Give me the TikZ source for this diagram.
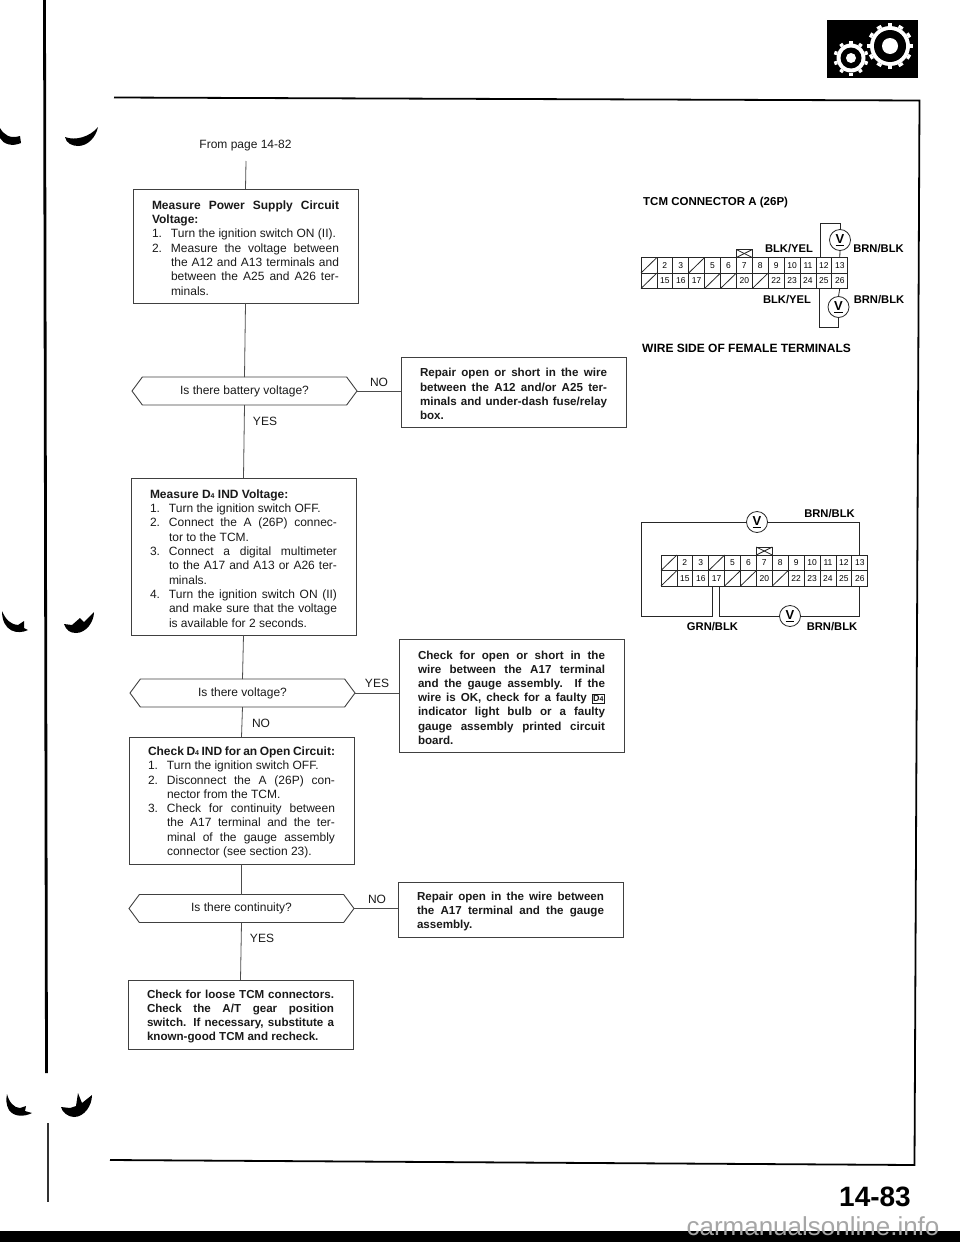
\documentclass[tikz,border=0pt]{standalone}
\usepackage{fontspec}
\setmainfont{Liberation Sans}
\usetikzlibrary{shapes.symbols}
\tolerance=9999
\hbadness=10000

\newcommand{\stepline}[2]{\par\noindent\hangindent=19pt\hangafter=1\makebox[19pt][l]{#1}#2\par}
\newcommand{\dfour}{D{\fontsize{7}{7}\selectfont 4}}
\newcommand{\dfourbox}{{\setlength{\fboxsep}{0.8pt}\setlength{\fboxrule}{0.6pt}\fbox{\fontsize{9}{9}\selectfont\dfour}}}
\newcommand{\tcmgrid}[3]{%
    \foreach \n in {2,3,5,6,7,8,9,10,11,12,13,15,16,17,20,22,23,24,25,26}{
        \pgfmathtruncatemacro{\cellcol}{mod(\n-1,13)}
        \pgfmathtruncatemacro{\cellrow}{(\n-1)/13}
        \node[pincell] (#3\n) at (#1+\cellcol*15.9+7.95, #2+\cellrow*15.5+7.75) {\n};
    }
    \foreach \n in {1,4,14,18,19,21}{
        \pgfmathtruncatemacro{\cellcol}{mod(\n-1,13)}
        \pgfmathtruncatemacro{\cellrow}{(\n-1)/13}
        \node[pincell] (#3\n) at (#1+\cellcol*15.9+7.95, #2+\cellrow*15.5+7.75) {};
        \draw[wire] (#3\n.south west) -- (#3\n.north east);
    }
    \node[keybox, anchor=south] (#3key) at (#37.north) {};
}
\newcommand{\gearwheel}[7]{%
    \foreach \a in {1,...,#6}{
        \fill[white, rotate around={\a*360/#6:(#1,#2)}] (#1-#7,#2-#4) rectangle (#1+#7,#2-#3);
    }
    \fill[white] (#1,#2) circle[radius=#4];
    \fill[black] (#1,#2) circle[radius=#4-4];
    \fill[white] (#1,#2) circle[radius=#5];
}
\tikzset{
    wire/.style={line width=0.8pt, black!85},
    link/.style={line width=0.8pt, black!70},
    plainbox/.style={draw=black!75, line width=0.9pt, anchor=north west, text width=187pt, inner xsep=19pt,
        inner ysep=0pt, align=justify, outer sep=0pt, text=black!90, font=\fontsize{12}{14.3}\selectfont,
        execute at begin node={\rule{0pt}{12.5pt}}},
    boldbox/.style={plainbox, font=\fontsize{11.6}{14.2}\selectfont\bfseries},
    question/.style={draw=black!75, line width=0.9pt, shape=signal, signal to=west and east, signal pointer angle=107,
        minimum width=225pt, minimum height=28pt, inner sep=0pt, outer sep=0pt, text=black!90, font=\fontsize{12}{14}\selectfont},
    answer/.style={text=black!90, inner sep=0pt, font=\fontsize{12}{14}\selectfont},
    heading/.style={anchor=west, inner sep=0pt, font=\fontsize{11.5}{14}\selectfont\bfseries},
    colour/.style={inner sep=0pt, font=\fontsize{11.2}{14}\selectfont\bfseries},
    pincell/.style={draw=black!85, line width=0.7pt, minimum width=15.9pt, minimum height=15.5pt, inner sep=0pt,
        outer sep=0pt, font=\fontsize{8.5}{9}\selectfont},
    keybox/.style={draw=black!85, line width=0.8pt, minimum width=16pt, minimum height=8pt, inner sep=0pt, outer sep=0pt},
    vmeter/.style={draw=black!85, fill=white, line width=0.8pt, circle, minimum size=21pt, inner sep=0pt, outer sep=0pt,
        font=\fontsize{13}{13}\selectfont\bfseries},
}

\begin{document}
\begin{tikzpicture}[x=1pt, y=-1pt]
    \useasboundingbox (0, 0) rectangle (960, 1242);

    \draw[line width=2.8pt] (44.5, 0) -- (46.5, 1073);
    \draw[line width=1.4pt, black!80] (48, 1123) -- (48, 1202);
    \draw[line width=1.8pt] (114, 97.5) -- (919.5, 100.5) -- (914.5, 1165) -- (110, 1160);
    \fill (0, 128) .. controls (4, 135) and (10, 139) .. (20, 136) -- (21, 143) .. controls (12, 147) and (3, 144) .. (0, 138) -- cycle;
    \fill (65, 137) .. controls (75, 141) and (90, 137) .. (98, 127) .. controls (96, 137) and (88, 146) .. (78, 146) .. controls (72, 146) and (66, 143) .. (65, 137) -- cycle;
    \fill (2, 611) .. controls (6, 620) and (10, 624) .. (18, 625) -- (24, 621) -- (24, 628) -- (28, 630) .. controls (18, 635) and (2, 632) .. (2, 611) -- cycle;
    \fill (64, 624) -- (72, 625) -- (80, 618) -- (84, 622) -- (94, 612) .. controls (94, 622) and (86, 633) .. (76, 633) .. controls (70, 633) and (66, 630) .. (64, 624) -- cycle;
    \fill (7, 1094) .. controls (9, 1102) and (14, 1108) .. (20, 1108) -- (26, 1106) -- (25, 1111) -- (32, 1113) .. controls (24, 1117) and (14, 1117) .. (9, 1110) .. controls (6, 1105) and (6, 1099) .. (7, 1094) -- cycle;
    \fill (61, 1107) -- (70, 1108) -- (76, 1106) -- (78, 1093) -- (82, 1103) -- (92, 1095) .. controls (92, 1106) and (84, 1117) .. (74, 1117) .. controls (68, 1117) and (62, 1112) .. (61, 1107) -- cycle;

    \fill (827, 20) rectangle (918, 78);
    \gearwheel{890}{46}{23}{20}{8}{12}{2.4}
    \gearwheel{851}{58}{17.5}{14.5}{5}{10}{1.8}

    \node[inner sep=0pt, text=black!90, font=\fontsize{12}{14}\selectfont] (frompage) at (245.5, 146) {From page 14-82};
    \coordinate (fromend) at (246, 161);

    \node[plainbox, minimum height=114pt] (supply) at (133, 189) {%
        \textbf{Measure Power Supply Circuit\linebreak Voltage:}
        \stepline{1.}{Turn the ignition switch ON (II).}
        \stepline{2.}{Measure the voltage between\linebreak the A12 and A13 terminals and\linebreak between the A25 and A26 ter-\linebreak minals.}};
    \node[question] (battery) at (244.5, 391) {Is there battery voltage?};
    \node[boldbox, minimum height=70pt] (repairone) at (401, 357) {%
        Repair open or short in the wire\linebreak between the A12 and/or A25 ter-\linebreak minals and under-dash fuse/relay\linebreak box.};
    \node[plainbox, minimum height=157pt] (indvolt) at (131, 478) {%
        \textbf{Measure \dfour{} IND Voltage:}
        \stepline{1.}{Turn the ignition switch OFF.}
        \stepline{2.}{Connect the A (26P) connec-\linebreak tor to the TCM.}
        \stepline{3.}{Connect a digital multimeter\linebreak to the A17 and A13 or A26 ter-\linebreak minals.}
        \stepline{4.}{Turn the ignition switch ON (II)\linebreak and make sure that the voltage\linebreak is available for 2 seconds.}};
    \node[question] (voltage) at (242.5, 693) {Is there voltage?};
    \node[boldbox, minimum height=113pt] (checkopen) at (399, 639) {%
        Check for open or short in the\linebreak wire between the A17 terminal\linebreak and the gauge assembly. If the\linebreak wire is OK, check for a faulty \dfourbox\linebreak indicator light bulb or a faulty\linebreak gauge assembly printed circuit\linebreak board.};
    \node[plainbox, minimum height=127pt] (indopen) at (129, 737) {%
        \textbf{Check \dfour{} IND for an Open Circuit:}
        \stepline{1.}{Turn the ignition switch OFF.}
        \stepline{2.}{Disconnect the A (26P) con-\linebreak nector from the TCM.}
        \stepline{3.}{Check for continuity between\linebreak the A17 terminal and the ter-\linebreak minal of the gauge assembly\linebreak connector (see section 23).}};
    \node[question] (continuity) at (241.5, 908.5) {Is there continuity?};
    \node[boldbox, minimum height=55pt] (repairtwo) at (398, 882) {%
        Repair open in the wire between\linebreak the A17 terminal and the gauge\linebreak assembly.};
    \node[boldbox, minimum height=69pt] (loose) at (128, 980) {%
        Check for loose TCM connectors.\linebreak Check the A/T gear position\linebreak switch. If necessary, substitute a\linebreak known-good TCM and recheck.};

    \draw[link] (fromend) -- (supply.north);
    \draw[link] (supply.south) -- (battery.north);
    \draw[link] (battery.south) -- (indvolt.north);
    \draw[link] (battery.east) -- (battery.east -| repairone.west);
    \draw[link] (indvolt.south) -- (voltage.north);
    \draw[link] (voltage.south) -- (indopen.north);
    \draw[link] (voltage.east) -- (voltage.east -| checkopen.west);
    \draw[link] (indopen.south) -- (continuity.north);
    \draw[link] (continuity.south) -- (loose.north);
    \draw[link] (continuity.east) -- (continuity.east -| repairtwo.west);

    \node[answer] (batteryno) at (379, 382) {NO};
    \node[answer] (batteryyes) at (265, 421) {YES};
    \node[answer] (voltageyes) at (377, 683) {YES};
    \node[answer] (voltageno) at (261, 723) {NO};
    \node[answer] (continuityno) at (377, 899) {NO};
    \node[answer] (continuityyes) at (262, 938) {YES};

    \node[heading] (tcmtitle) at (643, 203) {TCM CONNECTOR A (26P)};
    \tcmgrid{641}{257.5}{a-}
    \node[vmeter] (avtop) at (840, 240) {\underline{V}};
    \node[vmeter] (avbot) at (838.5, 307) {\underline{V}};
    \coordinate (avtopwire) at (840, 223);
    \coordinate (avbotwire) at (838.5, 327);
    \draw[wire] (a-key.south west) -- (a-key.north east);
    \draw[wire] (a-key.north west) -- (a-key.south east);
    \draw[wire] ([xshift=4pt]a-12.north west) |- (avtopwire) -- (avtop.north);
    \draw[wire] (avtop.south) -- (a-13.north);
    \draw[wire] (a-26.south) -- (avbot.north);
    \draw[wire] (avbot.south) -- (avbotwire) -| ([xshift=3pt]a-25.south west);
    \node[colour] (ablkone) at (789, 249) {BLK/YEL};
    \node[colour] (abrnone) at (878.5, 249) {BRN/BLK};
    \node[colour] (ablktwo) at (787, 300) {BLK/YEL};
    \node[colour] (abrntwo) at (879, 300) {BRN/BLK};
    \node[heading, font=\fontsize{12}{14}\selectfont\bfseries] (wireside) at (642, 348) {WIRE SIDE OF FEMALE TERMINALS};

    \tcmgrid{661}{555}{b-}
    \node[vmeter] (bvtop) at (757, 522) {\underline{V}};
    \node[vmeter] (bvbot) at (790, 616) {\underline{V}};
    \coordinate (bleft) at (641, 616);
    \draw[wire] (b-key.south west) -- (b-key.north east);
    \draw[wire] (b-key.north west) -- (b-key.south east);
    \draw[wire] (bvtop.east) -| (b-13.north);
    \draw[wire] (bvtop.west) -| (bleft) -| ([xshift=3.5pt]b-17.south west);
    \draw[wire] ([xshift=-5.5pt]b-17.south east) |- (bvbot.west);
    \draw[wire] (bvbot.east) -| (b-26.south);
    \node[colour] (bbrnone) at (829.5, 514) {BRN/BLK};
    \node[colour] (bgrn) at (712.5, 627) {GRN/BLK};
    \node[colour] (bbrntwo) at (832, 627) {BRN/BLK};

    \fill (0, 1231) rectangle (960, 1242);
    \node[inner sep=0pt, font=\fontsize{28}{30}\selectfont\bfseries] (pagenumber) at (875, 1197) {14-83};
    \node[inner sep=0pt, text=black!35, font=\fontsize{26}{28}\selectfont] (watermark) at (813, 1226) {carmanualsonline.info};
\end{tikzpicture}
\end{document}
